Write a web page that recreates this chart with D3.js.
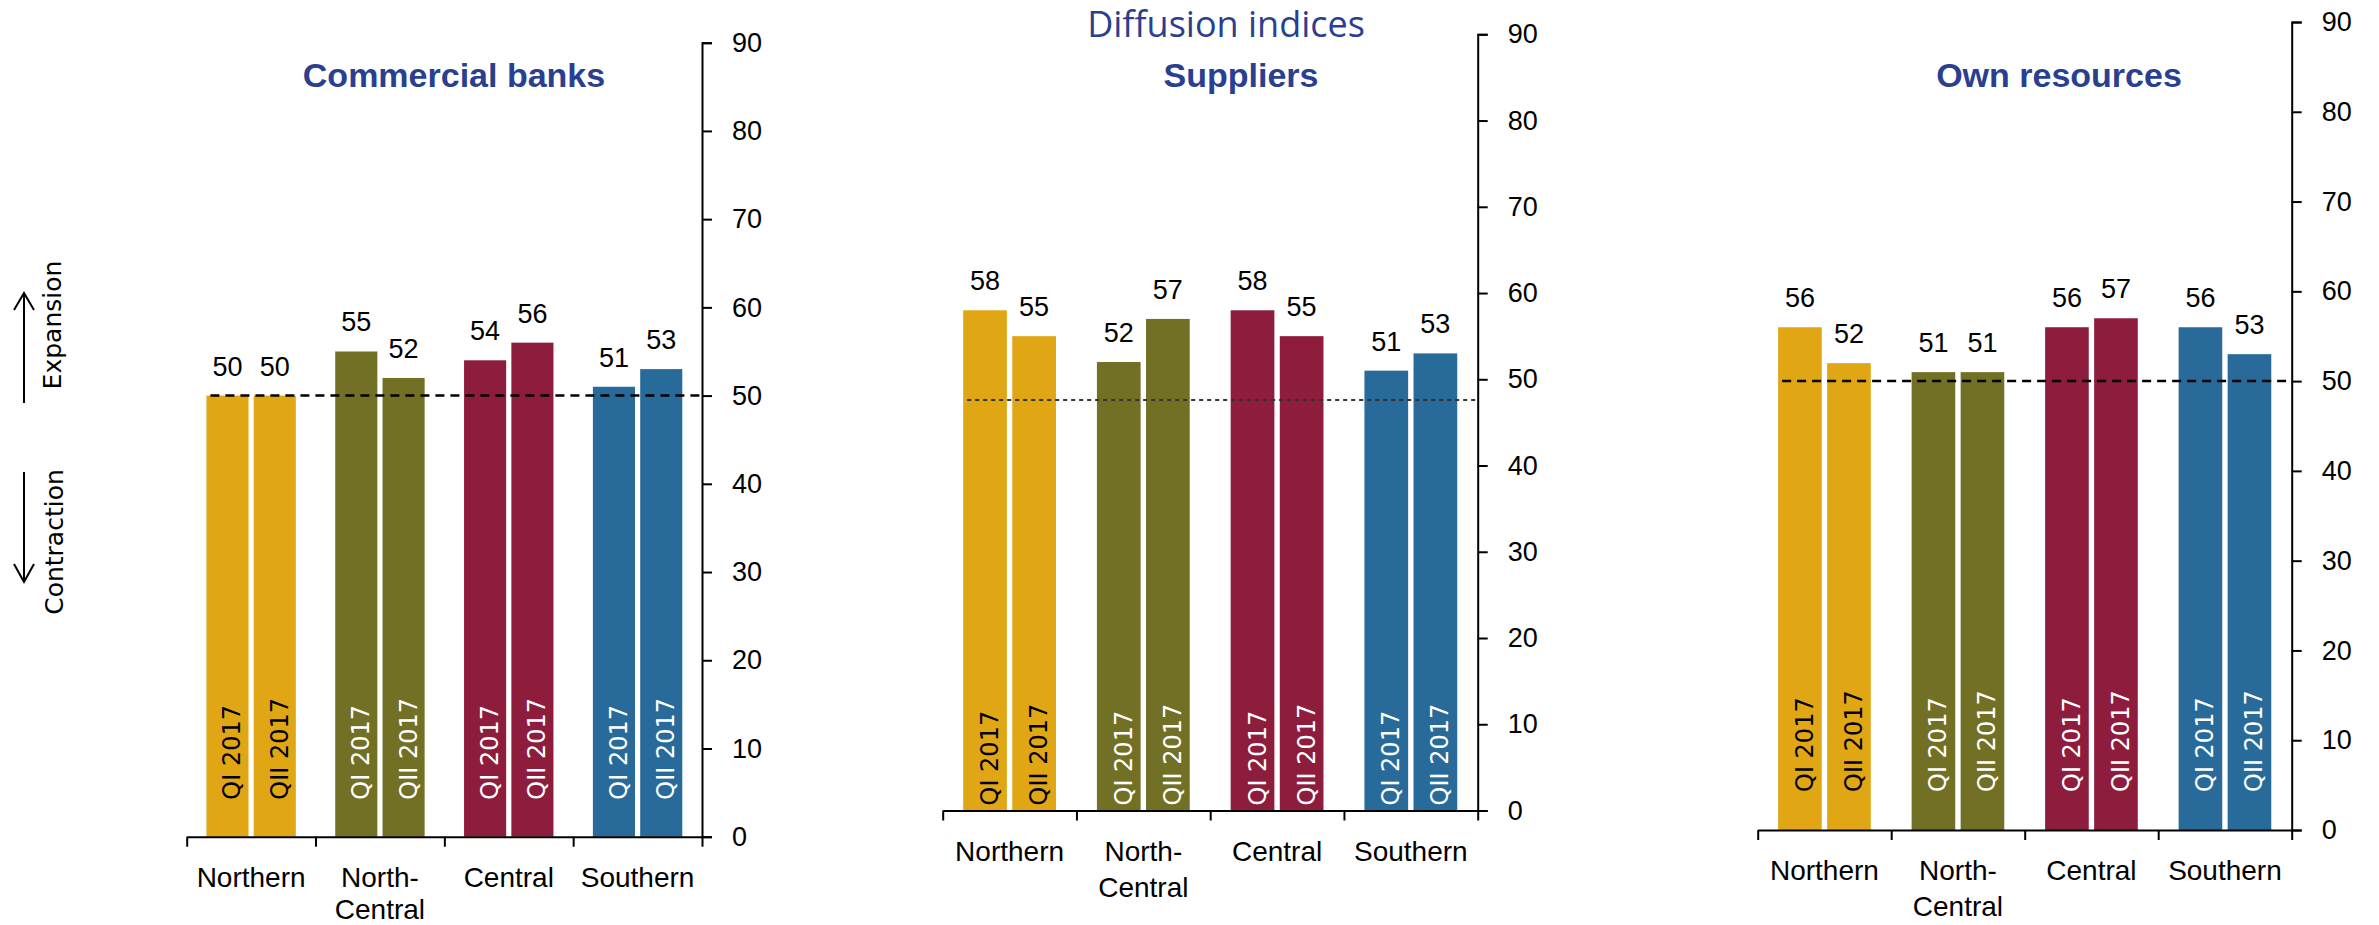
<!DOCTYPE html>
<html>
<head>
<meta charset="utf-8">
<script src="https://cdn.jsdelivr.net/npm/d3@7"></script>
<style>
  html, body { margin: 0; padding: 0; background: #fff; }
  svg { display: block; }
</style>
</head>
<body>
<div id="chart"></div>
<script>
// Regions surveyed and the two survey quarters
const categories = ["Northern", "North-Central", "Central", "Southern"];
const categoryLines = [["Northern"], ["North-", "Central"], ["Central"], ["Southern"]];
const quarters = ["QI 2017", "QII 2017"];

// Diffusion index by source of financing
const banksQI = [50, 55, 54, 51];
const banksQII = [50, 52, 56, 53];
const suppliersQI = [58, 52, 58, 51];
const suppliersQII = [55, 57, 55, 53];
const ownQI = [56, 51, 56, 56];
const ownQII = [52, 51, 57, 53];

// Threshold separating expansion from contraction in each panel
const banksRef = 50;
const suppliersRef = 47.6;
const ownRef = 50;

const yTicks = [0, 10, 20, 30, 40, 50, 60, 70, 80, 90];

const regionColors = ["#E0A614", "#727024", "#8E1C3C", "#286B9A"];
const quarterTextColors = ["#000000", "#ffffff", "#ffffff", "#ffffff"];
const titleColor = "#2A3F8F";

const W = 2379, H = 925;
const numFont = "'Liberation Sans', Arial, sans-serif";
const sideFont = "'DejaVu Sans', Verdana, sans-serif";

const svg = d3.select("#chart").append("svg")
  .attr("width", W).attr("height", H)
  .attr("viewBox", `0 0 ${W} ${H}`);
svg.append("rect").attr("width", W).attr("height", H).attr("fill", "#fff");

const panels = [
  { title: "Commercial banks", titleX: 454, qi: banksQI, qii: banksQII, ref: banksRef,
    left: 186.7, right: 702, top: 42.7, bottom: 836.7, dash: "9,6", refWidth: 2.5, refColor: "#000", qLift: 37 },
  { title: "Suppliers", titleX: 1241, qi: suppliersQI, qii: suppliersQII, ref: suppliersRef,
    left: 942.7, right: 1477.7, top: 34.3, bottom: 810.5, dash: "4,4", refWidth: 2, refColor: "#333", qLift: 5 },
  { title: "Own resources", titleX: 2059, qi: ownQI, qii: ownQII, ref: ownRef,
    left: 1757.7, right: 2291.7, top: 22, bottom: 830, dash: "9,6", refWidth: 2.5, refColor: "#000", qLift: 38 }
];

// Overall heading
svg.append("text")
  .attr("x", 1226).attr("y", 37)
  .attr("text-anchor", "middle")
  .attr("font-family", "'Open Sans', sans-serif")
  .attr("font-size", 36)
  .attr("fill", titleColor)
  .text("Diffusion indices");

panels.forEach(p => {
  const g = svg.append("g");
  const x = d3.scaleBand().domain(categories).range([p.left, p.right]);
  const bw = x.bandwidth();
  const inner = d3.scaleBand().domain(quarters)
    .range([bw * 0.153, bw * 0.847]).paddingInner(0.11);
  const y = d3.scaleLinear().domain([0, 90]).range([p.bottom, p.top]);
  const series = [p.qi, p.qii];

  // Bars, value labels and rotated quarter labels
  categories.forEach((c, i) => {
    quarters.forEach((q, j) => {
      const v = series[j][i];
      const bx = x(c) + inner(q);
      const cx = bx + inner.bandwidth() / 2;
      g.append("rect")
        .attr("x", bx).attr("y", y(v))
        .attr("width", inner.bandwidth())
        .attr("height", y(0) - y(v))
        .attr("fill", regionColors[i]);
      g.append("text")
        .attr("x", cx).attr("y", y(v) - 20)
        .attr("text-anchor", "middle")
        .attr("font-family", numFont).attr("font-size", 27)
        .attr("fill", "#000")
        .text(v);
      g.append("text")
        .attr("transform", `translate(${cx + 13},${y(0) - p.qLift}) rotate(-90)`)
        .attr("font-family", sideFont).attr("font-size", 24)
        .attr("fill", quarterTextColors[i])
        .text(q);
    });
  });

  // Threshold line
  const firstBar = x(categories[0]) + inner(quarters[0]);
  g.append("line")
    .attr("x1", firstBar + 4).attr("x2", p.right)
    .attr("y1", y(p.ref)).attr("y2", y(p.ref))
    .attr("stroke", p.refColor)
    .attr("stroke-width", p.refWidth)
    .attr("stroke-dasharray", p.dash);

  // Category axis with boundary ticks
  const edges = d3.scaleLinear().domain([0, categories.length]).range([p.left, p.right]);
  const xAxis = g.append("g")
    .attr("transform", `translate(0,${y(0)})`)
    .call(d3.axisBottom(edges).tickValues(d3.range(categories.length + 1))
      .tickFormat("").tickSize(10).tickSizeOuter(0));
  xAxis.selectAll("path, line").attr("stroke", "#000").attr("stroke-width", 2);

  categories.forEach((c, i) => {
    categoryLines[i].forEach((line, k) => {
      g.append("text")
        .attr("x", x(c) + bw / 2)
        .attr("y", Math.min(y(0) + 50 + k * 36, H - 6.5))
        .attr("text-anchor", "middle")
        .attr("font-family", numFont).attr("font-size", 28)
        .attr("fill", "#000")
        .text(line);
    });
  });

  // Value axis on the right
  const yAxis = g.append("g")
    .attr("transform", `translate(${p.right},0)`)
    .call(d3.axisRight(y).tickValues(yTicks).tickSize(10).tickSizeOuter(10).tickPadding(20));
  yAxis.attr("font-family", numFont).attr("font-size", 27);
  yAxis.selectAll("path, line").attr("stroke", "#000").attr("stroke-width", 2);
  yAxis.selectAll("text").attr("fill", "#000");

  // Panel title
  g.append("text")
    .attr("x", p.titleX).attr("y", 87)
    .attr("text-anchor", "middle")
    .attr("font-family", numFont).attr("font-weight", "bold")
    .attr("font-size", 34)
    .attr("fill", titleColor)
    .text(p.title);
});

// Direction guide on the left
const guide = svg.append("g").attr("stroke", "#000").attr("stroke-width", 2).attr("fill", "none");
guide.append("line").attr("x1", 24).attr("x2", 24).attr("y1", 403).attr("y2", 293);
guide.append("path").attr("d", "M14,310L24,293L34,310");
guide.append("line").attr("x1", 24).attr("x2", 24).attr("y1", 472).attr("y2", 582);
guide.append("path").attr("d", "M14,564L24,582L34,564");

svg.append("text")
  .attr("transform", "translate(61,325) rotate(-90)")
  .attr("text-anchor", "middle")
  .attr("font-family", sideFont).attr("font-size", 25)
  .attr("fill", "#000")
  .text("Expansion");
svg.append("text")
  .attr("transform", "translate(63,542) rotate(-90)")
  .attr("text-anchor", "middle")
  .attr("font-family", sideFont).attr("font-size", 25)
  .attr("fill", "#000")
  .text("Contraction");
</script>
</body>
</html>
